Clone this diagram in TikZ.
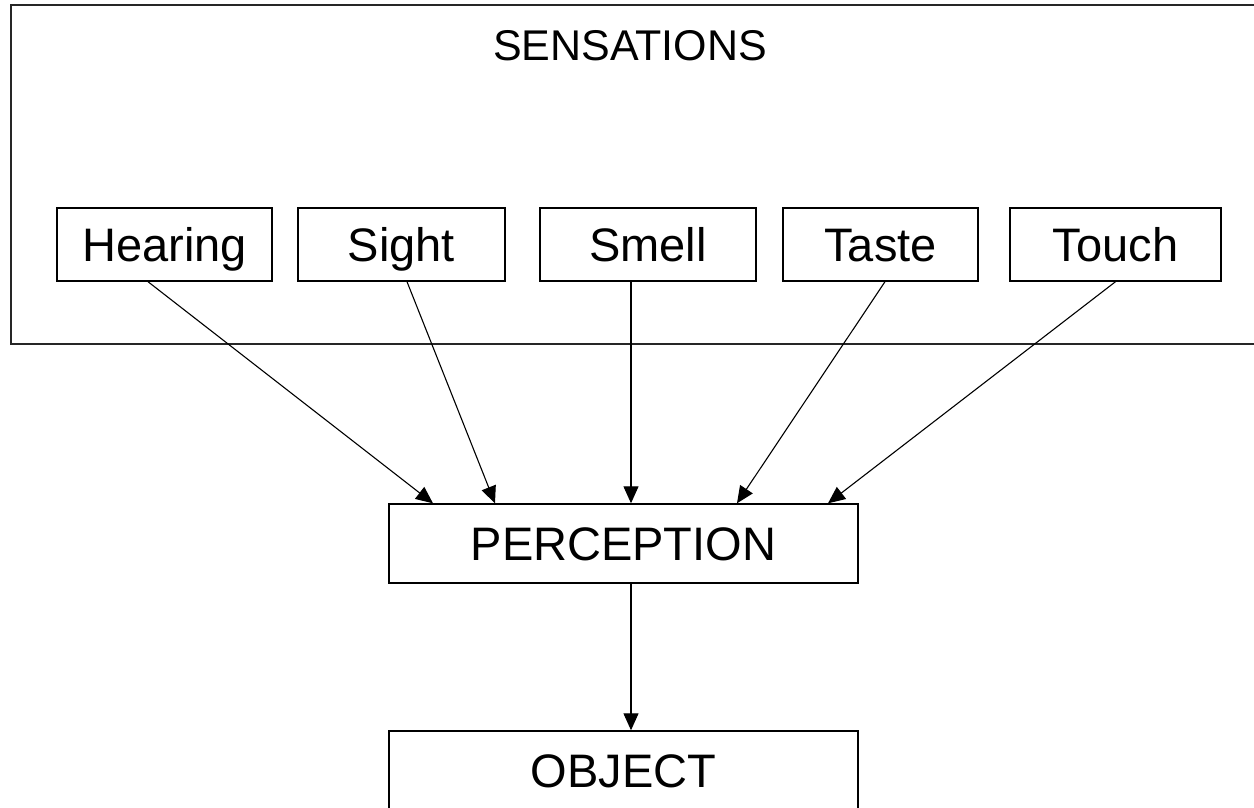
\documentclass[tikz,border=0pt]{standalone}
\usepackage{fontspec}
\setmainfont{Liberation Sans}
\usetikzlibrary{arrows.meta}
\begin{document}
\begin{tikzpicture}[x=1pt,y=-1pt,
  box/.style={draw=black,line width=1.4pt,inner sep=0pt,text height=43pt,text depth=9.35pt,font=\fontsize{47}{50}\selectfont},
  frame/.style={draw=black!85,line width=2.2pt,inner sep=0pt},
  label/.style={inner sep=0pt,text height=39.4pt,text depth=8.6pt,font=\fontsize{43}{46}\selectfont},
  arr/.style={draw=black,line width=1.1pt,-{Triangle[length=17pt,width=15pt]}}]
\useasboundingbox (0,0) rectangle (1254,807);
\clip (0,0) rectangle (1254,807);
\fill[white] (0,0) rectangle (1254,807);
% outer frame
\node[frame,minimum width=1252pt,minimum height=339pt] (sens) at (637,174.5) {};
\node[label] (title) at (630,45) {SENSATIONS};
% sense boxes
\node[box,minimum width=215pt,minimum height=73pt] (hear) at (164.5,244.5) {Hearing};
\node[box,minimum width=207pt,minimum height=73pt] (sight) at (401.5,244.5) {Sight};
\node[box,minimum width=216pt,minimum height=73pt] (smell) at (648,244.5) {Smell};
\node[box,minimum width=195pt,minimum height=73pt] (taste) at (880.5,244.5) {Taste};
\node[box,minimum width=211pt,minimum height=73pt] (touch) at (1115.5,244.5) {Touch};
% perception and object
\node[box,minimum width=469pt,minimum height=79pt] (perc) at (623.5,543.5) {PERCEPTION};
\node[box,minimum width=469pt,minimum height=79pt] (obj) at (623.5,770.5) {OBJECT};
% arrows
\draw[arr] ([xshift=-16.5pt]hear.south) -- ([xshift=-190.5pt]perc.north);
\draw[arr] ([xshift=5.5pt]sight.south) -- ([xshift=-128.5pt]perc.north);
\draw[arr] ([xshift=-17pt]smell.south) -- ([xshift=7.5pt]perc.north);
\draw[arr] ([xshift=4.5pt]taste.south) -- ([xshift=113.5pt]perc.north);
\draw[arr] (touch.south) -- ([xshift=204.5pt]perc.north);
\draw[arr] ([xshift=7.5pt]perc.south) -- ([xshift=7.5pt]obj.north);
\end{tikzpicture}
\end{document}
